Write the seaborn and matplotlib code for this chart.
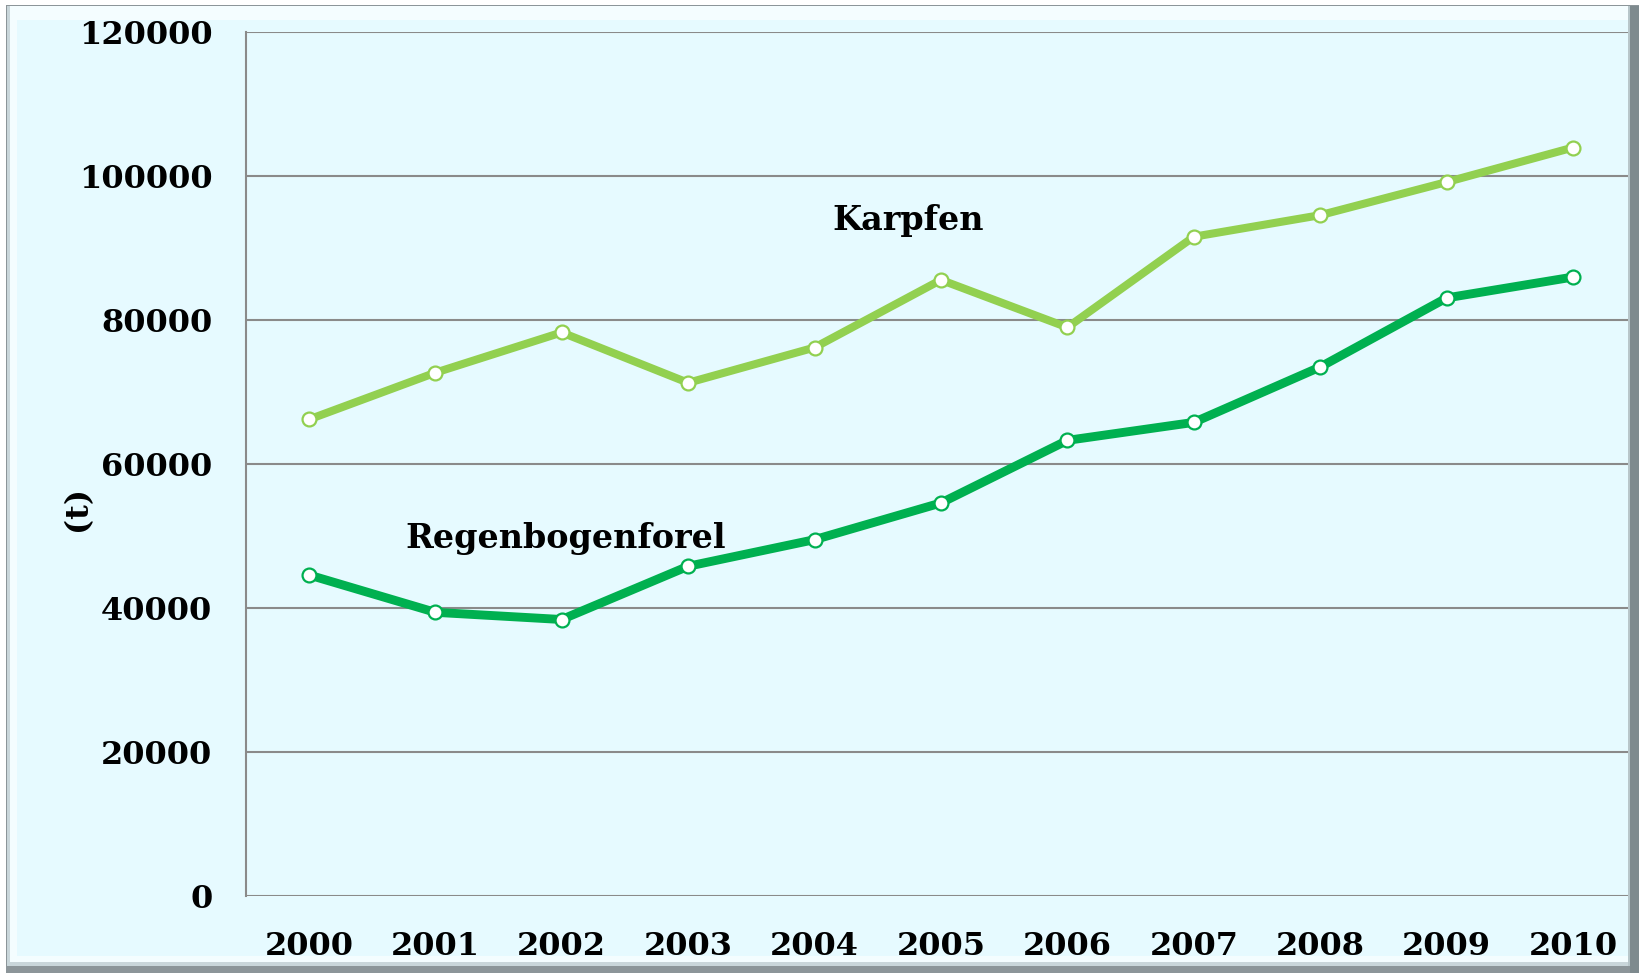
import matplotlib
matplotlib.use("Agg")
import matplotlib.pyplot as plt
from matplotlib.patches import Rectangle
import pandas as pd
import seaborn as sns

# ── data (Tonnen) ─────────────────────────────────────────────────────────────
years = [2000, 2001, 2002, 2003, 2004, 2005, 2006, 2007, 2008, 2009, 2010]
karpfen = [66200, 72700, 78300, 71300, 76200, 85600, 79000, 91600, 94600, 99200, 104000]
regenbogenforelle = [44600, 39400, 38400, 45800, 49500, 54600, 63300, 65800, 73500, 83100, 86000]
y_ticks = [0, 20000, 40000, 60000, 80000, 100000, 120000]

series_names = ["Karpfen", "Regenbogenforel"]
colors = {"Karpfen": "#92D050", "Regenbogenforel": "#00B050"}
BG = "#E6FAFF"

df = pd.DataFrame({
    "Jahr": years * 2,
    "Menge": karpfen + regenbogenforelle,
    "Art": ["Karpfen"] * len(years) + ["Regenbogenforel"] * len(years),
})

sns.set_style("white")
plt.rcParams["font.family"] = ["DejaVu Serif"]
plt.rcParams["font.weight"] = "bold"
for key in ["text.color", "axes.labelcolor", "xtick.color", "ytick.color"]:
    plt.rcParams[key] = "black"

W, H = 1639, 973
fig = plt.figure(figsize=(W / 100, H / 100), dpi=100, facecolor="white")


def px_rect(x0, y0, x1, y1, color, z=0):
    # pixel box (top-left origin) -> figure fraction rectangle
    r = Rectangle((x0 / W, 1 - y1 / H), (x1 - x0) / W, (y1 - y0) / H,
                  transform=fig.transFigure, facecolor=color, edgecolor="none",
                  zorder=z)
    fig.add_artist(r)


# ── frame with bevel ──────────────────────────────────────────────────────────
px_rect(6, 5, 1639, 973, "#8C9599", z=-10)
px_rect(7, 6, 1633, 966, "#C9D6DA", z=-9)
px_rect(10, 6, 1630, 962, "#F4FDFF", z=-8)
px_rect(17, 20, 1628, 956, BG, z=-7)
px_rect(1630, 6, 1639, 973, "#7E8A8E", z=5)
px_rect(1628, 6, 1630, 966, "#B8C6CA", z=5)

ax = fig.add_axes([245.6 / W, 77.2 / H, (1630 - 245.6) / W, (940.6 - 77.2) / H])
ax.set_facecolor("none")

sns.lineplot(data=df, x="Jahr", y="Menge", hue="Art", palette=colors,
             linewidth=5.8, marker="o", markersize=10, markerfacecolor="white",
             markeredgewidth=1.6, legend=False, ax=ax, zorder=3)
for line, name in zip(ax.get_lines(), series_names):
    line.set_markeredgecolor(colors[name])
ax.get_lines()[1].set_linewidth(6.4)

ax.set_xlim(1999.5, 2010.45)
ax.set_ylim(0, 120000)
ax.set_yticks(y_ticks)
ax.set_yticklabels([str(v) for v in y_ticks], fontsize=23, fontweight="bold")
ax.set_xticks(years)
ax.set_xticklabels([str(y) for y in years], fontsize=23, fontweight="bold")
ax.tick_params(axis="y", length=0, pad=24)
ax.tick_params(axis="x", length=0, pad=25)
ax.grid(axis="y", color="#8A8A8A", linewidth=1.5, zorder=1)
ax.set_axisbelow(True)
for side in ["top", "right", "bottom"]:
    ax.spines[side].set_visible(False)
ax.spines["left"].set_color("#8A8A8A")
ax.spines["left"].set_linewidth(1.5)

ax.set_xlabel("")
ax.set_ylabel("")
ax.text(-0.1215, 0.448, "(t)", transform=ax.transAxes, rotation=90,
        fontsize=23, fontweight="bold", ha="center", va="center")

ax.text(2004.74, 93900, "Karpfen", fontsize=24, fontweight="bold",
        ha="center", va="center")
ax.text(2002.03, 49700, "Regenbogenforel", fontsize=24, fontweight="bold",
        ha="center", va="center")

fig.savefig("out.png", dpi=100, facecolor=fig.get_facecolor())
